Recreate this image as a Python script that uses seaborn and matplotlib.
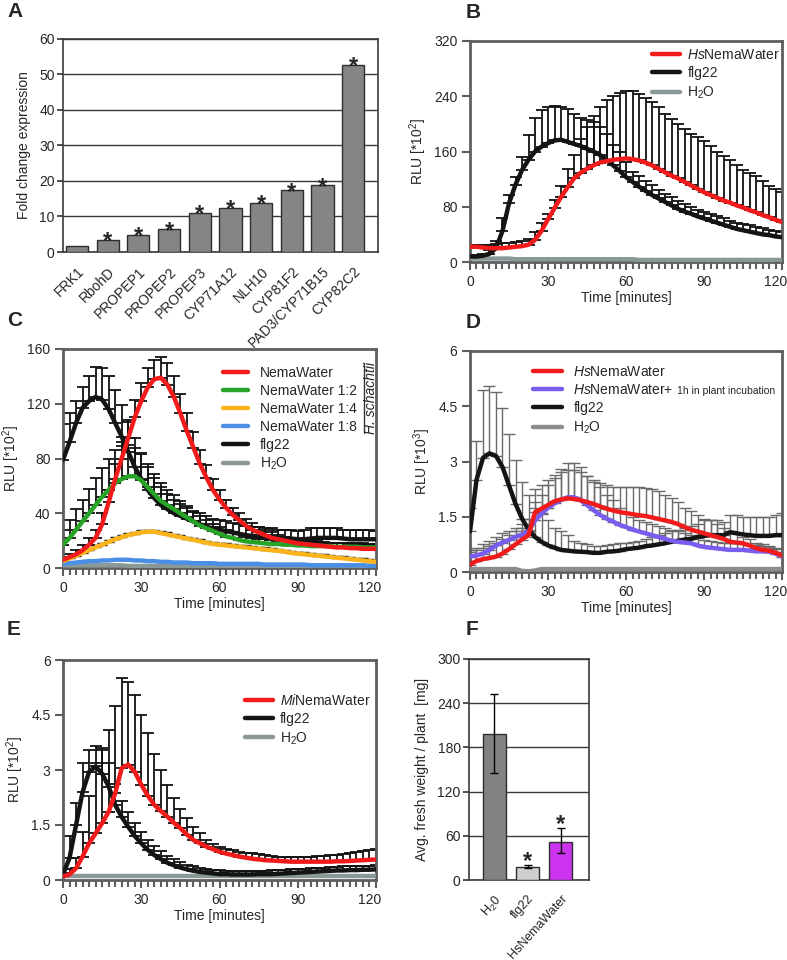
import numpy as np
import matplotlib
matplotlib.use("Agg")
import matplotlib.pyplot as plt
import seaborn as sns
from matplotlib.ticker import MultipleLocator
from matplotlib.transforms import ScaledTranslation

sns.set_theme(style="white")
plt.rcParams["font.family"] = ["Liberation Sans", "DejaVu Sans"]
plt.rcParams["mathtext.fontset"] = "custom"
plt.rcParams["mathtext.rm"] = "Liberation Sans"
plt.rcParams["mathtext.it"] = "Liberation Sans:italic"
plt.rcParams["mathtext.bf"] = "Liberation Sans:bold"

# ---------------- data ----------------
GENES = ["FRK1", "RbohD", "PROPEP1", "PROPEP2", "PROPEP3", "CYP71A12",
         "NLH10", "CYP81F2", "PAD3/CYP71B15", "CYP82C2"]
FOLD = [1.7, 3.4, 4.9, 6.4, 11.1, 12.4, 13.9, 17.4, 18.8, 52.8]
FOLD_SIG = [False, True, True, True, True, True, True, True, True, True]

TIME = [0, 2.5, 5, 7.5, 10, 12.5, 15, 17.5, 20, 22.5,
        25, 27.5, 30, 32.5, 35, 37.5, 40, 42.5, 45, 47.5,
        50, 52.5, 55, 57.5, 60, 62.5, 65, 67.5, 70, 72.5,
        75, 77.5, 80, 82.5, 85, 87.5, 90, 92.5, 95, 97.5,
        100, 102.5, 105, 107.5, 110, 112.5, 115, 117.5, 120]
X_TICKS = [0, 30, 60, 90, 120]

# panel B (RLU *10^2)
B_RED = [22, 22, 21, 20, 20, 20, 21, 22, 23, 25,
         32, 45, 62, 78, 94, 108, 121, 129, 135, 140,
         144, 146, 148, 149, 150, 149, 147, 144, 140, 135,
         130, 125, 121, 116, 111, 106, 101, 97, 93, 89,
         86, 82, 79, 75, 72, 68, 65, 61, 58]
B_RED_UP = [24, 25, 25, 25, 26, 27, 28, 29, 30, 33,
            43, 57, 70, 90, 110, 135, 155, 178, 195, 212,
            225, 234, 240, 245, 248, 247, 243, 237, 232, 224,
            214, 207, 200, 193, 186, 181, 175, 168, 160, 153,
            147, 140, 133, 129, 125, 118, 110, 105, 101]
B_FLG = [8, 8, 9, 12, 20, 45, 85, 112, 133, 148,
         160, 167, 172, 176, 177, 174, 171, 168, 164, 160,
         155, 148, 140, 132, 123, 116, 109, 103, 97, 92,
         87, 82, 77, 73, 70, 66, 63, 60, 57, 54,
         51, 48, 46, 44, 42, 40, 39, 37, 36]
B_FLG_UP = [9, 10, 12, 18, 30, 63, 97, 123, 152, 184,
            208, 220, 225, 226, 225, 222, 215, 208, 205, 203,
            196, 185, 170, 160, 145, 130, 124, 117, 111, 104,
            99, 94, 88, 84, 80, 76, 73, 70, 66, 63,
            60, 57, 55, 53, 51, 49, 47, 45, 44]
B_H2O = [5, 5, 5, 5, 5, 5, 5, 4, 4, 4,
         4, 4, 4, 4, 4, 4, 4, 4, 4, 4,
         4, 4, 4, 4, 4, 4, 3, 3, 3, 3,
         3, 3, 3, 3, 3, 3, 3, 3, 3, 3,
         3, 3, 3, 3, 3, 3, 3, 3, 3]

# panel C (RLU *10^2)
C_RED = [6, 8, 10, 13, 17, 22, 32, 48, 65, 80,
         95, 110, 122, 132, 138, 139, 134, 125, 113, 100,
         88, 76, 66, 57, 50, 44, 39, 35, 31, 28,
         26, 24, 22, 21, 20, 19, 18, 17.5, 17, 16.5,
         16, 15.5, 15, 15, 14.5, 14.5, 14, 14, 14]
C_RED_UP = [8, 10, 13, 17, 22, 28, 40, 57, 76, 92,
            108, 123, 135, 146, 152, 154, 150, 140, 127, 113,
            99, 86, 75, 65, 57, 50, 44, 40, 36, 33,
            30, 28, 26, 24, 23, 22, 21, 20.5, 20, 19.5,
            19, 18.5, 18, 18, 17.5, 17.5, 17, 17, 17]
C_GREEN = [17, 22, 28, 34, 40, 46, 52, 57, 62, 65,
           67, 67, 64, 59, 54, 49, 46, 43, 40, 37,
           34, 31, 29, 27, 25, 23, 22, 20.5, 19.5, 19,
           18.5, 18, 17.5, 17.5, 17, 17, 16.5, 16.5, 16, 16,
           16, 16, 15.5, 15.5, 15.5, 15.5, 15, 15, 15]
C_GREEN_UP = [28, 35, 43, 50, 58, 66, 73, 80, 86, 89,
              90, 88, 83, 76, 69, 62, 57, 53, 49, 45,
              41, 38, 35, 32, 30, 28, 26, 24.5, 23, 22,
              21.5, 21, 20.5, 20, 20, 19.5, 19.5, 19, 19, 19,
              18.5, 18.5, 18.5, 18, 18, 18, 18, 17.5, 17.5]
C_YELLOW = [5, 7, 9, 11, 13, 15, 17, 19, 21, 22.5,
            24, 25, 26, 26.5, 26.5, 25.5, 24.5, 23.5, 22.5, 21.5,
            20.5, 19.5, 18.5, 17.5, 17, 16.5, 16, 15.5, 15, 14.5,
            14, 13.5, 13, 12.5, 12, 11, 10.5, 10, 9.5, 9,
            8.5, 8, 7.5, 7, 6.5, 6, 5.5, 5, 4.5]
C_YELLOW_UP = [6, 8, 10, 12, 14, 16.5, 18.5, 20.5, 22.5, 24,
               25.5, 26.5, 27.5, 28, 28, 27, 26, 25, 24, 23,
               22, 21, 20, 19, 18.5, 18, 17.5, 17, 16.5, 16,
               15.5, 15, 14.5, 14, 13.5, 12.5, 12, 11.5, 11, 10.5,
               10, 9.5, 9, 8.5, 8, 7.5, 7, 6.5, 6]
C_BLUE = [3, 3.5, 4, 4.5, 5, 5, 5.5, 5.5, 6, 6,
          6, 5.5, 5.5, 5, 5, 4.5, 4.5, 4, 4, 4,
          3.5, 3.5, 3.5, 3.5, 3, 3, 3, 3, 3, 3,
          3, 2.5, 2.5, 2.5, 2.5, 2.5, 2.5, 2.5, 2, 2,
          2, 2, 2, 2, 2, 2, 2, 1.5, 1.5]
C_FLG = [79, 92, 106, 117, 122, 125, 123, 116, 106, 96,
         85, 74, 65, 57, 51, 46, 43, 40, 38, 36,
         34, 32, 30, 29, 28, 27, 26, 25, 24, 23.5,
         23, 22.5, 22, 22, 21.5, 21.5, 21, 21, 21.5, 22,
         22, 22, 22, 21.5, 21, 21, 21, 21, 21]
C_FLG_UP = [105, 113, 122, 132, 140, 147, 146, 140, 130, 119,
            107, 95, 84, 74, 66, 59, 54, 50, 47, 44,
            42, 40, 38, 36, 35, 34, 33, 32, 31, 30,
            30, 29, 29, 28, 28, 28, 27, 28, 29, 29,
            29, 29, 29, 28, 28, 28, 28, 28, 27]
C_H2O = [2, 2, 2, 2, 2, 2, 2, 2, 2, 2,
         1.5, 1.5, 1.5, 1.5, 1.5, 1.5, 1.5, 1.5, 1.5, 1.5,
         1.5, 1.5, 1.5, 1.5, 1.5, 1.5, 1.5, 1.5, 1.5, 1.5,
         1.5, 1.5, 1.5, 1.5, 1.5, 1.5, 1.5, 1.5, 1.5, 1.5,
         1.5, 1.5, 1.5, 1.5, 1.5, 1.5, 1.5, 1.5, 1.5]

# panel D (RLU *10^3)
D_RED = [0.2, 0.3, 0.35, 0.38, 0.42, 0.5, 0.62, 0.75, 0.88, 1.0,
         1.62, 1.72, 1.82, 1.92, 1.97, 2.0, 1.98, 1.95, 1.9, 1.85,
         1.78, 1.72, 1.67, 1.63, 1.6, 1.57, 1.54, 1.52, 1.48, 1.44,
         1.4, 1.36, 1.3, 1.22, 1.15, 1.1, 1.05, 1.0, 0.95, 0.9,
         0.82, 0.8, 0.78, 0.72, 0.65, 0.6, 0.58, 0.52, 0.45]
D_RED_UP = [0.55, 0.6, 0.65, 0.7, 0.8, 0.9, 1.0, 1.1, 1.2, 1.3,
            2.25, 2.35, 2.5, 2.62, 2.72, 2.78, 2.78, 2.72, 2.6, 2.5,
            2.42, 2.35, 2.32, 2.3, 2.3, 2.3, 2.3, 2.28, 2.25, 2.2,
            2.1, 2.0, 1.9, 1.75, 1.65, 1.55, 1.45, 1.4, 1.3, 1.2,
            1.1, 1.05, 0.95, 0.9, 0.8, 0.75, 0.7, 0.65, 0.55]
D_PURPLE = [0.42, 0.45, 0.5, 0.6, 0.72, 0.8, 0.87, 0.95, 1.02, 1.1,
            1.4, 1.58, 1.74, 1.86, 1.95, 2.03, 2.03, 1.95, 1.82, 1.68,
            1.55, 1.45, 1.37, 1.28, 1.22, 1.15, 1.1, 1.05, 1.0, 0.95,
            0.9, 0.85, 0.82, 0.8, 0.78, 0.72, 0.68, 0.66, 0.64, 0.62,
            0.6, 0.6, 0.6, 0.58, 0.56, 0.56, 0.55, 0.5, 0.42]
D_PURPLE_UP = [0.6, 0.65, 0.75, 0.85, 0.95, 1.05, 1.12, 1.2, 1.3, 1.45,
               1.9, 2.1, 2.35, 2.55, 2.8, 2.95, 2.95, 2.85, 2.6, 2.45,
               2.3, 2.1, 1.95, 1.75, 1.6, 1.5, 1.4, 1.35, 1.3, 1.25,
               1.2, 1.15, 1.1, 1.05, 1.0, 0.92, 0.88, 0.85, 0.82, 0.8,
               0.78, 0.78, 0.76, 0.74, 0.72, 0.7, 0.68, 0.62, 0.55]
D_FLG = [1.1, 2.5, 3.1, 3.22, 3.15, 2.85, 2.35, 1.85, 1.45, 1.15,
         0.95, 0.82, 0.72, 0.66, 0.6, 0.58, 0.56, 0.55, 0.54, 0.52,
         0.52, 0.55, 0.56, 0.58, 0.62, 0.64, 0.66, 0.7, 0.72, 0.75,
         0.78, 0.82, 0.85, 0.88, 0.9, 0.95, 0.98, 1.0, 1.0, 1.0,
         1.08, 1.05, 1.02, 1.0, 0.98, 0.98, 0.98, 1.0, 1.0]
D_FLG_UP = [1.75, 3.55, 4.95, 5.05, 4.9, 4.45, 3.75, 3.05, 2.45, 2.1,
            1.75, 1.6, 1.4, 1.2, 1.1, 1.0, 0.85, 0.8, 0.75, 0.7,
            0.7, 0.72, 0.75, 0.78, 0.8, 0.82, 0.85, 0.9, 0.95, 1.0,
            1.05, 1.1, 1.15, 1.2, 1.25, 1.3, 1.4, 1.4, 1.4, 1.35,
            1.55, 1.55, 1.5, 1.5, 1.5, 1.5, 1.5, 1.55, 1.6]
D_H2O = [0.08, 0.08, 0.08, 0.08, 0.08, 0.08, 0.08, 0.08, 0.03, 0.02,
         0.04, 0.08, 0.08, 0.08, 0.08, 0.08, 0.08, 0.08, 0.08, 0.08,
         0.08, 0.08, 0.08, 0.08, 0.08, 0.08, 0.08, 0.08, 0.08, 0.08,
         0.08, 0.08, 0.08, 0.08, 0.08, 0.08, 0.08, 0.08, 0.08, 0.08,
         0.08, 0.08, 0.08, 0.08, 0.08, 0.08, 0.08, 0.08, 0.08]

# panel E (RLU *10^2)
E_RED = [0.1, 0.15, 0.32, 0.64, 1.0, 1.27, 1.55, 1.86, 2.36, 3.05,
         3.15, 2.95, 2.6, 2.3, 2.05, 1.88, 1.73, 1.56, 1.41, 1.24,
         1.09, 1.0, 0.91, 0.84, 0.77, 0.72, 0.68, 0.64, 0.61, 0.58,
         0.56, 0.54, 0.53, 0.52, 0.51, 0.5, 0.5, 0.5, 0.5, 0.5,
         0.5, 0.5, 0.51, 0.51, 0.52, 0.53, 0.54, 0.55, 0.56]
E_RED_UP = [0.2, 0.3, 0.6, 1.3, 2.3, 3.2, 3.6, 4.1, 4.75, 5.5,
            5.4, 5.05, 4.5, 4.0, 3.45, 3.0, 2.6, 2.25, 1.95, 1.7,
            1.45, 1.27, 1.09, 0.98, 0.9, 0.85, 0.81, 0.77, 0.75, 0.73,
            0.7, 0.68, 0.65, 0.64, 0.63, 0.62, 0.62, 0.62, 0.63, 0.65,
            0.65, 0.67, 0.69, 0.71, 0.73, 0.76, 0.78, 0.81, 0.84]
E_FLG = [0.15, 0.6, 1.5, 2.4, 2.95, 3.1, 2.9, 2.55, 2.05, 1.72,
         1.45, 1.2, 1.0, 0.82, 0.68, 0.57, 0.47, 0.4, 0.34, 0.29,
         0.25, 0.22, 0.2, 0.18, 0.16, 0.16, 0.15, 0.15, 0.15, 0.15,
         0.16, 0.16, 0.16, 0.17, 0.18, 0.19, 0.2, 0.21, 0.22, 0.23,
         0.24, 0.25, 0.26, 0.26, 0.27, 0.27, 0.28, 0.28, 0.29]
E_FLG_UP = [0.3, 1.2, 2.1, 3.2, 3.55, 3.65, 3.55, 3.2, 2.62, 2.15,
            1.85, 1.55, 1.3, 1.08, 0.92, 0.78, 0.66, 0.56, 0.48, 0.42,
            0.37, 0.33, 0.3, 0.28, 0.26, 0.25, 0.24, 0.24, 0.24, 0.24,
            0.25, 0.25, 0.26, 0.27, 0.28, 0.29, 0.3, 0.31, 0.32, 0.33,
            0.34, 0.35, 0.36, 0.37, 0.37, 0.38, 0.38, 0.39, 0.4]
E_H2O = [0.1, 0.1, 0.1, 0.1, 0.1, 0.1, 0.1, 0.1, 0.1, 0.1,
         0.1, 0.1, 0.1, 0.1, 0.1, 0.1, 0.1, 0.1, 0.1, 0.1,
         0.1, 0.1, 0.1, 0.1, 0.1, 0.1, 0.1, 0.1, 0.1, 0.1,
         0.1, 0.1, 0.1, 0.1, 0.1, 0.1, 0.1, 0.1, 0.1, 0.1,
         0.1, 0.1, 0.1, 0.1, 0.1, 0.1, 0.1, 0.1, 0.1]

# panel F
F_CATS = ["H2O", "flg22", "HsNemaWater"]
F_TICKLABELS = ["H$_2$0", "flg22", "HsNemaWater"]
F_MEAN = [198, 18, 51]
F_LOW = [145, 16, 37]
F_HIGH = [253, 20, 70]
F_SIG = [False, True, True]
F_COLORS = ["#828282", "#cfcfcf", "#cc33ee"]

RED = "#f21b1b"
BLACK = "#141414"
GREY = "#8a9898"
FRAME = "#5e5e5e"

W, H = 787, 960
fig = plt.figure(figsize=(W / 100, H / 100), dpi=100)


def box(left, top, right, bottom):
    return fig.add_axes([left / W, 1 - bottom / H, (right - left) / W, (bottom - top) / H])


def shift(label, dx, dy=0):
    # move a text by a few pixels
    label.set_transform(label.get_transform() + ScaledTranslation(dx / 100, dy / 100, fig.dpi_scale_trans))


def time_axis(ax, ymax, yticks, ylabels, ylabel):
    ax.set_xlim(0, 120)
    ax.set_ylim(0, ymax)
    ax.set_xticks(X_TICKS)
    ax.set_xticklabels([str(t) for t in X_TICKS])
    ax.xaxis.set_minor_locator(MultipleLocator(2.5))
    ax.set_yticks(yticks)
    ax.set_yticklabels(ylabels)
    ax.tick_params(which="both", direction="out", color=FRAME, width=1.5,
                   bottom=True, left=True, labelsize=10, pad=3)
    ax.tick_params(which="major", length=6)
    ax.tick_params(which="minor", length=5)
    for s in ax.spines.values():
        s.set_color(FRAME)
        s.set_linewidth(2)
    ax.set_xlabel("Time [minutes]", fontsize=10, labelpad=2)
    ax.set_ylabel(ylabel, fontsize=10, labelpad=4)
    shift(ax.xaxis.get_major_ticks()[-1].label1, -6)


def up_bars(ax, mean, upper, color="#111111", lw=1.3, cap=4.5):
    m = np.asarray(mean, dtype=float)
    u = np.asarray(upper, dtype=float)
    ax.errorbar(TIME, m, yerr=[np.zeros_like(m), u - m], fmt="none", ecolor=color,
                elinewidth=lw, capsize=cap, capthick=lw, zorder=2)


def curve(ax, y, color, label, z, lw=3.2):
    sns.lineplot(x=TIME, y=y, ax=ax, color=color, linewidth=lw, label=label,
                 zorder=z, solid_capstyle="round")


def legend(ax, x, y, hl=2.0, pad=0.6, spacing=0.3):
    return ax.legend(loc="upper left", bbox_to_anchor=(x, y), frameon=False, fontsize=10,
                     handlelength=hl, handletextpad=pad, labelspacing=spacing,
                     borderpad=0, borderaxespad=0)


def letter(x, y, s):
    fig.text(x / W, 1 - y / H, s, fontsize=15, fontweight="bold", va="top", ha="left")


# ---------------- A ----------------
axA = box(63, 39, 378, 252)
sns.barplot(x=GENES, y=FOLD, ax=axA, color="#858585", saturation=1, edgecolor="#2e2e2e",
            linewidth=1, width=0.72, errorbar=None, zorder=3)
axA.set_xlim(-0.46, 9.81)
axA.set_ylim(0, 60)
axA.set_yticks([0, 10, 20, 30, 40, 50, 60])
axA.yaxis.grid(True, color="#3a3a3a", linewidth=1)
axA.set_axisbelow(True)
axA.set_xticks(range(len(GENES)))
axA.set_xticklabels(GENES, rotation=45, ha="right", rotation_mode="anchor", fontsize=10)
axA.tick_params(axis="y", direction="out", left=True, length=4, color="#3a3a3a", labelsize=10, pad=2)
axA.tick_params(axis="x", bottom=False, pad=3)
for s in axA.spines.values():
    s.set_color("#3a3a3a")
    s.set_linewidth(1.2)
axA.set_ylabel("Fold change expression", fontsize=10, labelpad=6)
for i, (v, sig) in enumerate(zip(FOLD, FOLD_SIG)):
    if sig:
        axA.annotate("*", xy=(i, v), xytext=(0, -6), textcoords="offset points",
                     ha="center", va="baseline", fontsize=17, fontweight="bold")

# ---------------- B ----------------
axB = box(470, 41, 782, 262)
up_bars(axB, B_RED, B_RED_UP)
up_bars(axB, B_FLG, B_FLG_UP)
curve(axB, B_RED, RED, "$\\it{Hs}$NemaWater", 5)
curve(axB, B_FLG, BLACK, "flg22", 4)
curve(axB, B_H2O, GREY, "H$_2$O", 3)
time_axis(axB, 320, [0, 80, 160, 240, 320], ["0", "80", "160", "240", "320"], "RLU [*10$^2$]")
legend(axB, 0.583, 0.968, hl=2.0, pad=0.55)

# ---------------- C ----------------
axC = box(63, 349, 376, 568)
up_bars(axC, C_FLG, C_FLG_UP)
up_bars(axC, C_RED, C_RED_UP)
up_bars(axC, C_GREEN, C_GREEN_UP)
up_bars(axC, C_YELLOW, C_YELLOW_UP, lw=1.0, cap=3.5)
curve(axC, C_RED, RED, "NemaWater", 6)
curve(axC, C_GREEN, "#27a327", "NemaWater 1:2", 5)
curve(axC, C_YELLOW, "#fbb41c", "NemaWater 1:4", 4)
curve(axC, C_BLUE, "#4b8ee6", "NemaWater 1:8", 3.5)
curve(axC, C_FLG, BLACK, "flg22", 4.5)
curve(axC, C_H2O, GREY, "H$_2$O", 3)
time_axis(axC, 160, [0, 40, 80, 120, 160], ["0", "40", "80", "120", "160"], "RLU [*10$^2$]")
legend(axC, 0.511, 0.922, hl=1.8, pad=0.85, spacing=0.28)
axC.plot([0.963, 0.963], [0.616, 0.936], transform=axC.transAxes, color="#333333", lw=1)
axC.text(0.984, 0.776, "H. schachtii", transform=axC.transAxes, rotation=90,
         ha="center", va="center", fontsize=10, style="italic")

# ---------------- D ----------------
axD = box(470, 351, 782, 572)
up_bars(axD, D_FLG, D_FLG_UP, color="#6a6a6a", lw=1.0, cap=4)
up_bars(axD, D_RED, D_RED_UP, color="#6a6a6a", lw=1.0, cap=4)
up_bars(axD, D_PURPLE, D_PURPLE_UP, color="#6a6a6a", lw=1.0, cap=4)
curve(axD, D_RED, RED, "$\\it{Hs}$NemaWater", 5)
curve(axD, D_PURPLE, "#7b5cf0", "$\\it{Hs}$NemaWater+", 4.5)
curve(axD, D_FLG, BLACK, "flg22", 4)
curve(axD, D_H2O, "#8c8c8c", "H$_2$O", 3)
time_axis(axD, 6, [0, 1.5, 3, 4.5, 6], ["0", "1.5", "3", "4.5", "6"], "RLU [*10$^3$]")
legD = legend(axD, 0.202, 0.937, hl=2.1, pad=0.8)

# ---------------- E ----------------
axE = box(63, 660, 376, 880)
up_bars(axE, E_RED, E_RED_UP)
up_bars(axE, E_FLG, E_FLG_UP)
curve(axE, E_RED, RED, "$\\it{Mi}$NemaWater", 5)
curve(axE, E_FLG, BLACK, "flg22", 4)
curve(axE, E_H2O, GREY, "H$_2$O", 3)
time_axis(axE, 6, [0, 1.5, 3, 4.5, 6], ["0", "1.5", "3", "4.5", "6"], "RLU [*10$^2$]")
legend(axE, 0.581, 0.85, hl=2.0, pad=0.5)

# ---------------- F ----------------
axF = box(469, 659, 589, 880)
sns.barplot(x=F_CATS, y=F_MEAN, hue=F_CATS, palette=F_COLORS, legend=False, ax=axF,
            saturation=1, edgecolor="#2e2e2e", linewidth=1, width=0.7, errorbar=None, zorder=3)
fm = np.asarray(F_MEAN, dtype=float)
axF.errorbar(range(len(F_CATS)), fm,
             yerr=[fm - np.asarray(F_LOW), np.asarray(F_HIGH) - fm],
             fmt="none", ecolor="black", elinewidth=1, capsize=3, capthick=1, zorder=4)
for i, (v, sig) in enumerate(zip(F_HIGH, F_SIG)):
    if sig:
        axF.annotate("*", xy=(i, v), xytext=(0, -2), textcoords="offset points",
                     ha="center", va="baseline", fontsize=17, fontweight="bold")
axF.set_xlim(-0.77, 2.86)
axF.set_ylim(0, 300)
axF.set_yticks([0, 60, 120, 180, 240, 300])
axF.yaxis.grid(True, color="#3a3a3a", linewidth=1)
axF.set_axisbelow(True)
axF.set_xticks(range(len(F_CATS)))
axF.set_xticklabels(F_TICKLABELS, rotation=48, ha="right", rotation_mode="anchor", fontsize=9)
for lab in axF.get_xticklabels():
    shift(lab, 9, 3)
axF.tick_params(axis="y", direction="out", left=True, length=4, color="#3a3a3a", labelsize=10, pad=2)
axF.tick_params(axis="x", bottom=False, pad=3)
for s in axF.spines.values():
    s.set_color("#3a3a3a")
    s.set_linewidth(1.2)
axF.set_ylabel("Avg. fresh weight / plant  [mg]", fontsize=10, labelpad=6)

# panel letters
letter(7, 2, "A")
letter(466, 3, "B")
letter(7, 311, "C")
letter(466, 313, "D")
letter(7, 620, "E")
letter(466, 620, "F")

# small suffix on the purple legend entry in D
fig.canvas.draw()
bb = legD.get_texts()[1].get_window_extent()
fig.text((bb.x1 + 3) / W, (bb.y0 + 1) / H, "1h in plant incubation", fontsize=7.5,
         va="bottom", ha="left")

fig.savefig("out.png", dpi=100)
